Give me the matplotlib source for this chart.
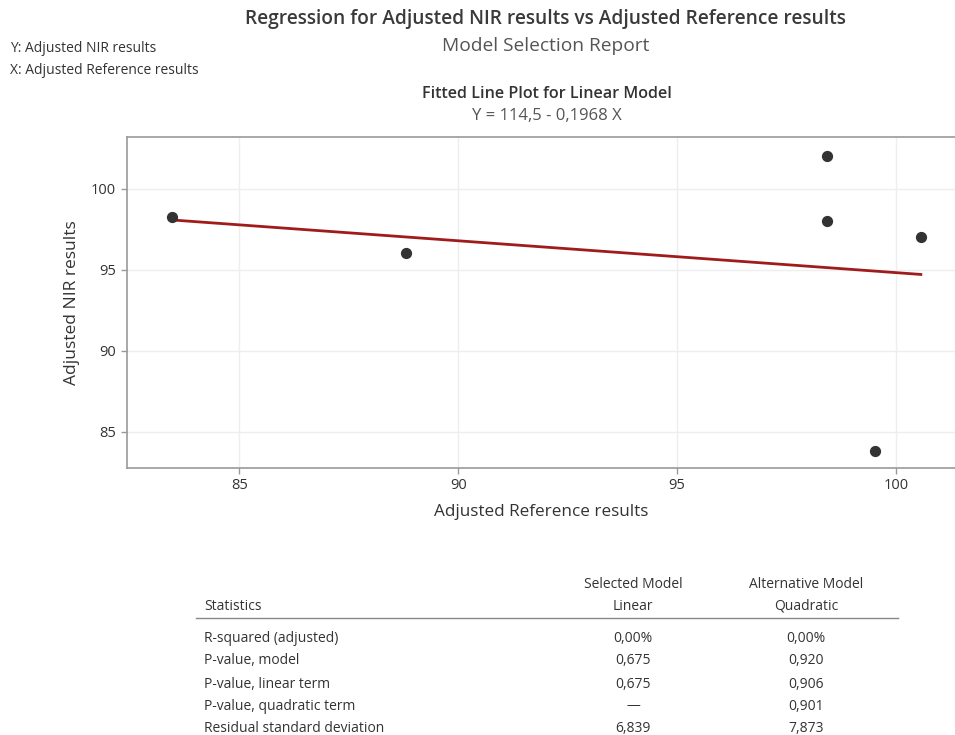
import matplotlib
matplotlib.use("Agg")
import matplotlib.pyplot as plt
import numpy as np

plt.rcParams['font.family'] = ['Open Sans', 'DejaVu Sans']

# Data
x_ref = [83.47, 88.81, 98.42, 98.42, 100.57, 99.52]
y_nir = [98.27, 96.05, 102.04, 98.0, 97.04, 83.83]
intercept = 114.5
slope = -0.1968
x_ticks = [85, 90, 95, 100]
y_ticks = [85, 90, 95, 100]

stat_names = ["R-squared (adjusted)", "P-value, model", "P-value, linear term",
              "P-value, quadratic term", "Residual standard deviation"]
linear_vals = ["0,00%", "0,675", "0,675", "\u2014", "6,839"]
quad_vals = ["0,00%", "0,920", "0,906", "0,901", "7,873"]

W, H = 955, 735
fig = plt.figure(figsize=(W / 100, H / 100), dpi=100)

def fx(px):
    return px / W

def fy(py):
    return 1 - py / H

# Header texts
fig.text(fx(545), fy(19), "Regression for Adjusted NIR results vs Adjusted Reference results",
         ha='center', va='center', fontsize=13.8, fontweight='semibold', color='#3a3a3a')
fig.text(fx(546), fy(46), "Model Selection Report", ha='center', va='center',
         fontsize=13.8, color='#555555')
fig.text(fx(10), fy(48), "Y: Adjusted NIR results", ha='left', va='center',
         fontsize=10, color='#333333')
fig.text(fx(10), fy(70), "X: Adjusted Reference results", ha='left', va='center',
         fontsize=10, color='#333333')
fig.text(fx(547), fy(94), "Fitted Line Plot for Linear Model", ha='center', va='center',
         fontsize=11.6, fontweight='semibold', color='#333333')
fig.text(fx(547), fy(116), "Y = 114,5 - 0,1968 X", ha='center', va='center',
         fontsize=12, color='#555555')

# Axes
left, right, top, bottom = 126.5, 955, 137, 467.5
ax = fig.add_axes([fx(left), fy(bottom), fx(right - left), (bottom - top) / H])
ax.set_xlim(82.42, 101.35)
ax.set_ylim(82.78, 103.2)
ax.set_xticks(x_ticks)
ax.set_yticks(y_ticks)
ax.grid(True, color='#eeeeee', linewidth=1)
ax.set_axisbelow(True)
for s in ['left', 'bottom', 'top']:
    ax.spines[s].set_color('#999999')
    ax.spines[s].set_linewidth(1.2)
ax.spines['right'].set_visible(False)
ax.tick_params(colors='#999999', labelcolor='#333333', labelsize=10.5, length=4, width=1)

xs = np.array([min(x_ref), max(x_ref)])
ax.plot(xs, intercept + slope * xs, color='#a01c1c', linewidth=2.0, zorder=2)
ax.scatter(x_ref, y_nir, s=50, color='#333333', zorder=3)

ax.set_xlabel("Adjusted Reference results", fontsize=12.3, color='#333333', labelpad=8)
ax.set_ylabel("Adjusted NIR results", fontsize=12.5, color='#333333', labelpad=8)

# Table
fs = 10
fig.text(fx(633), fy(584), "Selected Model", ha='center', va='center', fontsize=fs, color='#333333')
fig.text(fx(633), fy(606), "Linear", ha='center', va='center', fontsize=fs, color='#333333')
fig.text(fx(806), fy(584), "Alternative Model", ha='center', va='center', fontsize=fs, color='#333333')
fig.text(fx(806), fy(606), "Quadratic", ha='center', va='center', fontsize=fs, color='#333333')
fig.text(fx(204), fy(606), "Statistics", ha='left', va='center', fontsize=fs, color='#333333')
fig.add_artist(plt.Line2D([fx(196), fx(898)], [fy(618), fy(618)], color='#888888', linewidth=1))

row_y = [638, 661, 684, 706, 728]
for name, lv, qv, yy in zip(stat_names, linear_vals, quad_vals, row_y):
    fig.text(fx(204), fy(yy), name, ha='left', va='center', fontsize=fs, color='#333333')
    fig.text(fx(633), fy(yy), lv, ha='center', va='center', fontsize=fs, color='#333333')
    fig.text(fx(806), fy(yy), qv, ha='center', va='center', fontsize=fs, color='#333333')

fig.savefig("out.png", dpi=100)
